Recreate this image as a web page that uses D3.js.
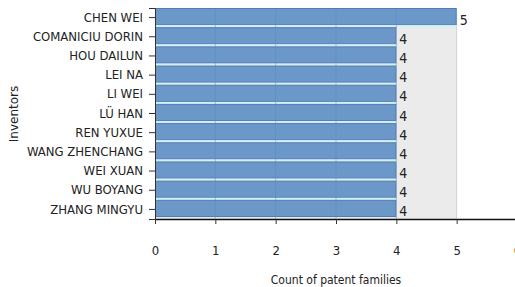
<!DOCTYPE html>
<html lang="en">
<head>
<meta charset="utf-8">
<title>Inventors</title>
<script src="https://d3js.org/d3.v7.min.js"></script>
<style>
  body { margin: 0; background: #fff; }
  svg text { font-family: "DejaVu Sans Condensed", "DejaVu Sans", sans-serif; fill: #222; }
</style>
</head>
<body>
<div id="chart"></div>
<script>
  const inventors = ["CHEN WEI", "COMANICIU DORIN", "HOU DAILUN", "LEI NA", "LI WEI", "LÜ HAN",
                     "REN YUXUE", "WANG ZHENCHANG", "WEI XUAN", "WU BOYANG", "ZHANG MINGYU"];
  const counts = [5, 4, 4, 4, 4, 4, 4, 4, 4, 4, 4];
  const xTicks = [0, 1, 2, 3, 4, 5, 6];

  const width = 515, height = 287;
  const margin = {top: 8, right: -2, bottom: 68, left: 155};

  const svg = d3.select("#chart").append("svg")
    .attr("width", width)
    .attr("height", height);

  const x = d3.scaleLinear().domain([0, 6])
    .range([margin.left, width - margin.right]);
  const y = d3.scaleBand().domain(inventors)
    .range([margin.top, height - margin.bottom])
    .paddingInner(0).paddingOuter(0);

  const maxVal = d3.max(counts);

  // grey plot background up to the max value
  svg.append("rect")
    .attr("x", x(0)).attr("y", margin.top)
    .attr("width", x(maxVal) - x(0))
    .attr("height", height - margin.bottom - margin.top)
    .attr("fill", "#ebebeb");

  svg.append("line")
    .attr("x1", x(maxVal)).attr("x2", x(maxVal))
    .attr("y1", margin.top).attr("y2", height - margin.bottom)
    .attr("stroke", "#d2d2d2");

  // bars
  const bars = svg.selectAll(".bar")
    .data(inventors)
    .enter().append("g")
    .attr("class", "bar");

  bars.append("rect")
    .attr("x", x(0) + 0.5)
    .attr("y", d => y(d) + 0.5)
    .attr("width", (d, i) => x(counts[i]) - x(0) - 1)
    .attr("height", y.bandwidth() - 3)
    .attr("fill", "#6b98c9")
    .attr("stroke", "#4f7eb3")
    .attr("stroke-width", 1);

  // light separator under each bar
  bars.filter((d, i) => i < inventors.length - 1).append("rect")
    .attr("x", x(0))
    .attr("y", d => y(d) + y.bandwidth() - 2)
    .attr("width", (d, i) => x(counts[i]) - x(0))
    .attr("height", 2)
    .attr("fill", "#d4eef7");

  // faint gridlines through the bars
  svg.selectAll(".grid")
    .data(xTicks.filter(t => t > 0 && t < maxVal))
    .enter().append("line")
    .attr("x1", d => x(d)).attr("x2", d => x(d))
    .attr("y1", margin.top).attr("y2", height - margin.bottom)
    .attr("stroke", "#5a8abf")
    .attr("stroke-opacity", 0.5);

  // value labels
  svg.selectAll(".val")
    .data(inventors)
    .enter().append("text")
    .attr("x", (d, i) => x(counts[i]) + 3)
    .attr("y", d => y(d) + y.bandwidth() / 2 + 7)
    .attr("font-size", "14px")
    .text((d, i) => counts[i]);

  // y axis
  const yAxis = svg.append("g")
    .attr("transform", "translate(" + x(0) + ",0)")
    .call(d3.axisLeft(y).tickSize(6).tickPadding(6));
  yAxis.selectAll("text").attr("font-size", "13px").style("font-family", null);
  yAxis.select(".domain").attr("stroke", "#333");
  yAxis.selectAll(".tick line").attr("stroke", "#333");

  // x axis
  const xAxis = svg.append("g")
    .attr("transform", "translate(0," + (height - margin.bottom) + ")")
    .call(d3.axisBottom(x).tickValues(xTicks).tickFormat(d3.format("d"))
      .tickSize(5).tickPadding(22).tickSizeOuter(0));
  xAxis.selectAll("text").attr("font-size", "13px").style("font-family", null);
  xAxis.select(".domain").attr("stroke", "#111").attr("stroke-width", 1.3);
  xAxis.selectAll(".tick line").attr("stroke", "#333");

  // axis titles
  svg.append("text")
    .attr("x", 336).attr("y", 284)
    .attr("text-anchor", "middle")
    .attr("font-size", "12px")
    .text("Count of patent families");

  svg.append("text")
    .attr("transform", "translate(18,114) rotate(-90)")
    .attr("text-anchor", "middle")
    .attr("font-size", "12px")
    .style("font-family", "'DejaVu Sans', sans-serif")
    .text("Inventors");
</script>
</body>
</html>
